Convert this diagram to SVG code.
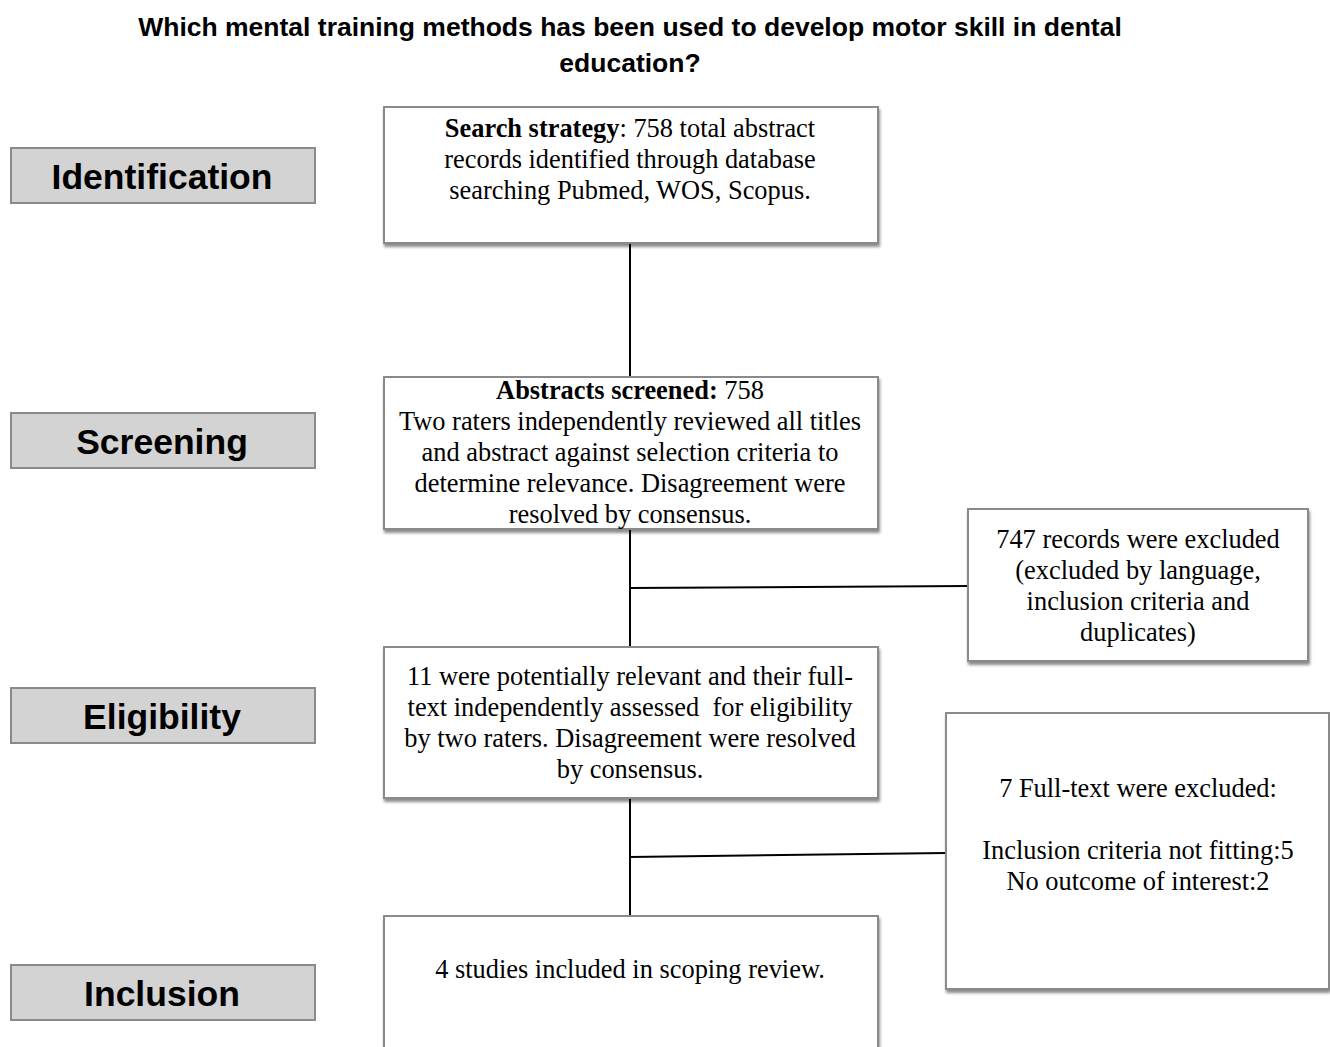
<svg xmlns="http://www.w3.org/2000/svg" width="1330" height="1047" viewBox="0 0 1330 1047">
<style>
.title{font-family:"Liberation Sans",Arial,sans-serif;font-weight:bold;font-size:26.5px;fill:#000;text-anchor:middle}
.stage rect{fill:#d3d3d3;stroke:#8a8a8a;stroke-width:2}
.stage text{font-family:"Liberation Sans",Arial,sans-serif;font-weight:bold;font-size:35.5px;fill:#000;text-anchor:middle}
.box rect{fill:#fff;stroke:#8a8a8a;stroke-width:2;filter:url(#sh)}
.box text{font-family:"Liberation Serif","Times New Roman",serif;font-size:26.4px;fill:#000;text-anchor:middle}
.b{font-weight:bold}
.conn line{stroke:#000;stroke-width:2}
</style>
<defs>
<filter id="sh" x="-5%" y="-5%" width="115%" height="120%">
<feDropShadow dx="1" dy="3" stdDeviation="1.5" flood-color="#000" flood-opacity="0.45"/>
</filter>
</defs>
<rect width="1330" height="1047" fill="#fff"/>
<g id="title">
<text class="title" x="630" y="36">Which mental training methods has been used to develop motor skill in dental</text>
<text class="title" x="630" y="72">education?</text>
</g>
<g id="stage-identification" class="stage"><rect x="11" y="148" width="304" height="55"/><text x="162" y="189">Identification</text></g>
<g id="stage-screening" class="stage"><rect x="11" y="413" width="304" height="55"/><text x="162" y="454">Screening</text></g>
<g id="stage-eligibility" class="stage"><rect x="11" y="688" width="304" height="55"/><text x="162" y="729">Eligibility</text></g>
<g id="stage-inclusion" class="stage"><rect x="11" y="965" width="304" height="55"/><text x="162" y="1006">Inclusion</text></g>
<g id="connectors" class="conn">
<line x1="630" y1="243" x2="630" y2="377"/>
<line x1="630" y1="529" x2="630" y2="647"/>
<line x1="630" y1="588" x2="968" y2="586"/>
<line x1="630" y1="798" x2="630" y2="916"/>
<line x1="630" y1="857" x2="946" y2="853"/>
</g>
<g id="search" class="box"><rect x="384" y="107" width="494" height="136"/>
<text x="630" y="137"><tspan class="b">Search strategy</tspan>: 758 total abstract</text>
<text x="630" y="168">records identified through database</text>
<text x="630" y="199">searching Pubmed, WOS, Scopus.</text>
</g>
<g id="screened" class="box"><rect x="384" y="377" width="494" height="152"/>
<text x="630" y="399"><tspan class="b">Abstracts screened:</tspan> 758</text>
<text x="630" y="430">Two raters independently reviewed all titles</text>
<text x="630" y="461">and abstract against selection criteria to</text>
<text x="630" y="492">determine relevance. Disagreement were</text>
<text x="630" y="523">resolved by consensus.</text>
</g>
<g id="excluded-records" class="box"><rect x="968" y="509" width="340" height="152"/>
<text x="1138" y="548">747 records were excluded</text>
<text x="1138" y="579">(excluded by language,</text>
<text x="1138" y="610">inclusion criteria and</text>
<text x="1138" y="641">duplicates)</text>
</g>
<g id="fulltext" class="box"><rect x="384" y="647" width="494" height="151"/>
<text x="630" y="685">11 were potentially relevant and their full-</text>
<text x="630" y="716" xml:space="preserve">text independently assessed  for eligibility</text>
<text x="630" y="747">by two raters. Disagreement were resolved</text>
<text x="630" y="778">by consensus.</text>
</g>
<g id="excluded-fulltext" class="box"><rect x="946" y="713" width="383" height="276"/>
<text x="1138" y="797">7 Full-text were excluded:</text>
<text x="1138" y="859">Inclusion criteria not fitting:5</text>
<text x="1138" y="890">No outcome of interest:2</text>
</g>
<g id="included" class="box"><rect x="384" y="916" width="494" height="140"/>
<text x="630" y="978">4 studies included in scoping review.</text>
</g>
</svg>
